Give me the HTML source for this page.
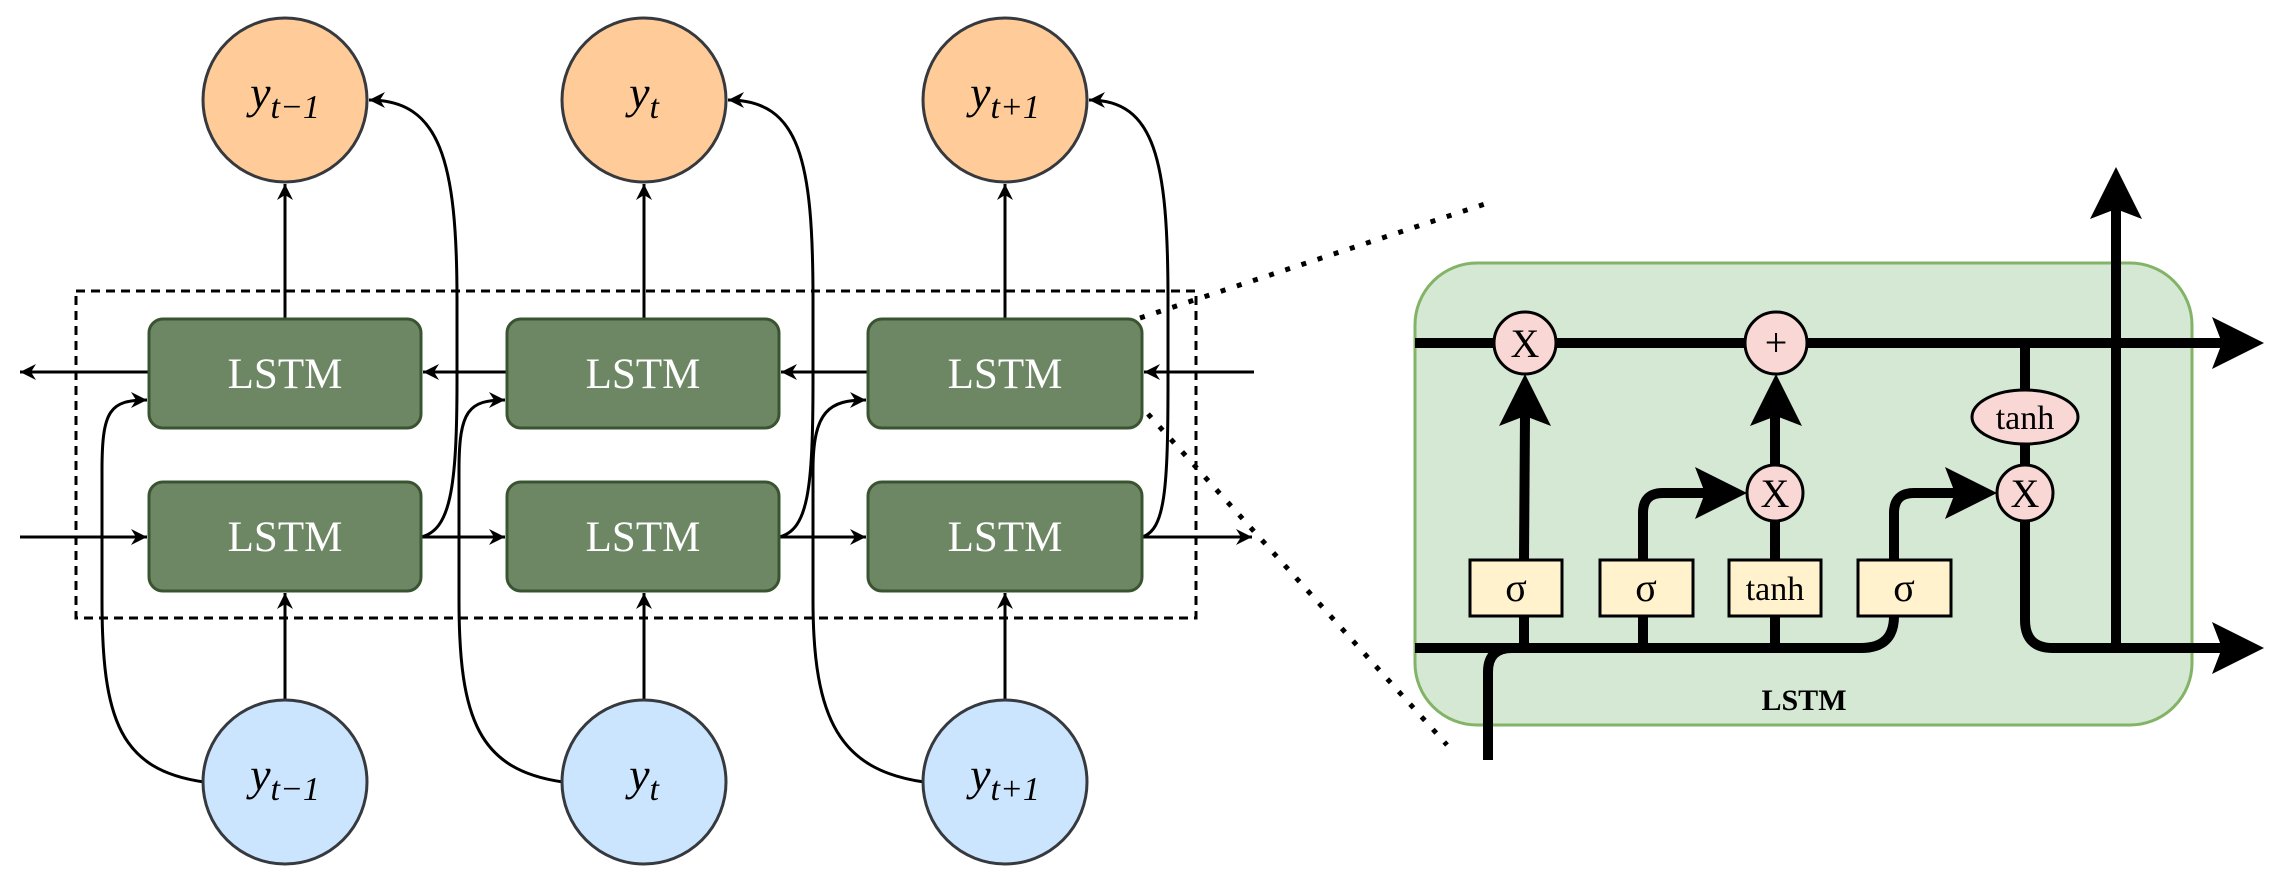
<!DOCTYPE html>
<html><head><meta charset="utf-8"><style>html,body{margin:0;padding:0;background:#fff}svg{display:block}text{font-family:"Liberation Serif",serif}</style></head><body>
<svg width="2286" height="877" viewBox="0 0 2286 877" xmlns="http://www.w3.org/2000/svg">
<defs>
<marker id="a" viewBox="0 0 20 20" refX="18" refY="10" markerWidth="20" markerHeight="20" markerUnits="userSpaceOnUse" orient="auto"><path d="M2,2 L18,10 L2,18 L7,10 Z" fill="#000"/></marker>
</defs>
<rect x="76" y="291" width="1120" height="327" fill="none" stroke="#000" stroke-width="3" stroke-dasharray="9,6"/>
<line x1="1140" y1="318" x2="1494" y2="201" stroke="#000" stroke-width="5" stroke-dasharray="5,12"/>
<line x1="1148" y1="414" x2="1447" y2="745" stroke="#000" stroke-width="5" stroke-dasharray="5,12"/>
<g stroke="#000" stroke-width="3" fill="none">
<line x1="285" y1="319" x2="285" y2="184" marker-end="url(#a)"/>
<line x1="644" y1="319" x2="644" y2="184" marker-end="url(#a)"/>
<line x1="1005" y1="319" x2="1005" y2="184" marker-end="url(#a)"/>
<line x1="285" y1="700" x2="285" y2="593" marker-end="url(#a)"/>
<line x1="644" y1="700" x2="644" y2="593" marker-end="url(#a)"/>
<line x1="1005" y1="700" x2="1005" y2="593" marker-end="url(#a)"/>
<line x1="149" y1="372" x2="20" y2="372" marker-end="url(#a)"/>
<line x1="507" y1="372" x2="423" y2="372" marker-end="url(#a)"/>
<line x1="868" y1="372" x2="781" y2="372" marker-end="url(#a)"/>
<line x1="1254" y1="372" x2="1144" y2="372" marker-end="url(#a)"/>
<line x1="20" y1="537" x2="147" y2="537" marker-end="url(#a)"/>
<line x1="421" y1="537" x2="505" y2="537" marker-end="url(#a)"/>
<line x1="779" y1="537" x2="866" y2="537" marker-end="url(#a)"/>
<line x1="1142" y1="537" x2="1252" y2="537" marker-end="url(#a)"/>
<path d="M204,782 C120,770 102,720 102,600 L102,470 C102,410 110,400 147,400" marker-end="url(#a)"/>
<path d="M563,782 C479,770 459,720 459,600 L459,470 C459,410 469,400 505,400" marker-end="url(#a)"/>
<path d="M924,782 C840,770 813,720 813,600 L813,470 C813,410 830,400 866,400" marker-end="url(#a)"/>
<path d="M421,537 C450,530 457,490 457,380 L457,300 C457,160 440,100 369,100" marker-end="url(#a)"/>
<path d="M779,537 C808,530 813,490 813,380 L813,300 C813,160 800,100 728,100" marker-end="url(#a)"/>
<path d="M1142,537 C1165,530 1168,490 1168,380 L1168,300 C1168,160 1155,100 1089,100" marker-end="url(#a)"/>
</g>
<g fill="#6d8764" stroke="#3a5431" stroke-width="3">
<rect x="149" y="319" width="272" height="109" rx="14"/>
<rect x="507" y="319" width="272" height="109" rx="14"/>
<rect x="868" y="319" width="274" height="109" rx="14"/>
<rect x="149" y="482" width="272" height="109" rx="14"/>
<rect x="507" y="482" width="272" height="109" rx="14"/>
<rect x="868" y="482" width="274" height="109" rx="14"/>
</g>
<g fill="#fff" font-size="43" text-anchor="middle">
<text x="285" y="388">LSTM</text><text x="643" y="388">LSTM</text><text x="1005" y="388">LSTM</text>
<text x="285" y="551">LSTM</text><text x="643" y="551">LSTM</text><text x="1005" y="551">LSTM</text>
</g>
<g fill="#ffcc99" stroke="#36393d" stroke-width="3">
<circle cx="285" cy="100" r="82"/><circle cx="644" cy="100" r="82"/><circle cx="1005" cy="100" r="82"/>
</g>
<g fill="#cce5ff" stroke="#36393d" stroke-width="3">
<circle cx="285" cy="782" r="82"/><circle cx="644" cy="782" r="82"/><circle cx="1005" cy="782" r="82"/>
</g>
<g font-style="italic" font-size="46" text-anchor="middle" fill="#000">
<text x="285" y="108">y<tspan font-size="34" dy="10">t−1</tspan></text>
<text x="644" y="108">y<tspan font-size="34" dy="10">t</tspan></text>
<text x="1005" y="108">y<tspan font-size="34" dy="10">t+1</tspan></text>
<text x="285" y="790">y<tspan font-size="34" dy="10">t−1</tspan></text>
<text x="644" y="790">y<tspan font-size="34" dy="10">t</tspan></text>
<text x="1005" y="790">y<tspan font-size="34" dy="10">t+1</tspan></text>
</g>
<rect x="1415" y="263" width="777" height="462" rx="62" fill="#d5e8d4" stroke="#82b366" stroke-width="3"/>
<g stroke="#000" stroke-width="10" fill="none">
<line x1="1415" y1="343" x2="2230" y2="343"/>
<path d="M1415,648 L1861,648 Q1894,648 1894,616"/>
<path d="M1488,760 L1488,672 Q1488,648 1512,648"/>
<path d="M2025,493 L2025,620 Q2025,648 2053,648 L2230,648"/>
<line x1="2116" y1="648" x2="2116" y2="200"/>
<line x1="2025" y1="343" x2="2025" y2="493"/>
<line x1="1524" y1="648" x2="1524" y2="560"/>
<line x1="1643" y1="648" x2="1643" y2="560"/>
<line x1="1775" y1="648" x2="1775" y2="560"/>
<line x1="1524" y1="560" x2="1525" y2="415"/>
<path d="M1643,560 L1643,513 Q1643,493 1663,493 L1710,493"/>
<line x1="1775" y1="560" x2="1775" y2="415"/>
<path d="M1894,560 L1894,513 Q1894,493 1914,493 L1960,493"/>
</g>
<g fill="#000">
<polygon points="1525,374 1551,426 1525,416 1499,426"/>
<polygon points="1776,374 1802,426 1776,416 1750,426"/>
<polygon points="2116,167 2142,219 2116,209 2090,219"/>
<polygon points="1747,493 1695,467 1705,493 1695,519"/>
<polygon points="1997,493 1945,467 1955,493 1945,519"/>
<polygon points="2264,343 2212,317 2222,343 2212,369"/>
<polygon points="2264,648 2212,622 2222,648 2212,674"/>
</g>
<g fill="#fff2cc" stroke="#000" stroke-width="3">
<rect x="1470" y="560" width="92" height="56"/>
<rect x="1600" y="560" width="93" height="56"/>
<rect x="1729" y="560" width="92" height="56"/>
<rect x="1858" y="560" width="93" height="56"/>
</g>
<g fill="#f8d7d4" stroke="#000" stroke-width="3">
<circle cx="1525" cy="343" r="31"/>
<circle cx="1776" cy="343" r="31"/>
<circle cx="1775" cy="493" r="28"/>
<circle cx="2025" cy="493" r="28"/>
<ellipse cx="2025" cy="417" rx="53" ry="27"/>
</g>
<g font-size="40" text-anchor="middle" fill="#000">
<text x="1525" y="357">X</text>
<text x="1776" y="356">+</text>
<text x="1775" y="507">X</text>
<text x="2025" y="507">X</text>
<text x="2025" y="429" font-size="34">tanh</text>
<text x="1516" y="601">σ</text>
<text x="1646" y="601">σ</text>
<text x="1775" y="600" font-size="34">tanh</text>
<text x="1904" y="601">σ</text>
<text x="1804" y="710" font-size="30" font-weight="bold">LSTM</text>
</g>
</svg>
</body></html>
